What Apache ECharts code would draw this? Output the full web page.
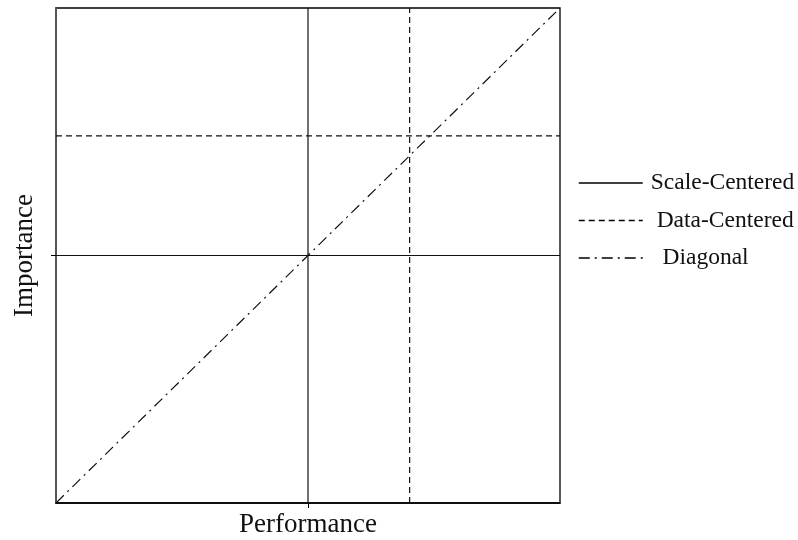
<!DOCTYPE html>
<html>
<head>
<meta charset="utf-8">
<script src="https://cdn.jsdelivr.net/npm/echarts@6/dist/echarts.min.js"></script>
<style>
  html, body { margin: 0; padding: 0; background: #fff; }
  #chart { width: 798px; height: 540px; }
</style>
</head>
<body>
<div id="chart"></div>
<script>
// rating scale 1..7, midpoint 4
const scaleMin = 1
const scaleMax = 7
const scaleMid = 4
// data-centred means (performance, importance)
const perfMean = 5.21
const impMean = 5.45
const seriesNames = ['Scale-Centered', 'Data-Centered', 'Diagonal']
const labelIndent = { 'Scale-Centered': '', 'Data-Centered': ' ', 'Diagonal': '  ' }

const serif = 'Liberation Serif, Times New Roman, serif'
const ink = '#111'

let mychart = echarts.init(document.getElementById('chart'))

function lineSeries(name, data, type) {
  return {
    name: name,
    type: 'line',
    data: data,
    symbol: 'none',
    silent: true,
    lineStyle: { color: ink, width: 1.2, type: type },
    itemStyle: { color: ink }
  }
}

const dashed = [6, 4]
const dashDot = [11, 5, 2, 5]

let option = {
  animation: false,
  grid: {
    left: 56, right: 238, top: 8, bottom: 37,
    outerBoundsMode: 'none',
    containLabel: false,
    show: true, borderColor: '#000', borderWidth: 1.3
  },
  legend: {
    orient: 'vertical',
    left: 578,
    top: 171,
    padding: 0,
    itemWidth: 64,
    itemHeight: 14,
    itemGap: 13.5,
    data: seriesNames,
    itemStyle: { opacity: 0 },
    lineStyle: { width: 1.5, color: '#000', opacity: 1 },
    formatter: function(name) {
      return labelIndent[name] + name
    },
    textStyle: { fontFamily: serif, fontSize: 23.5, color: '#111', padding: [0, 0, 0, 3] }
  },
  xAxis: {
    type: 'value',
    min: scaleMin,
    max: scaleMax,
    interval: 3,
    name: 'Performance',
    nameLocation: 'middle',
    nameGap: 8,
    nameTextStyle: { fontFamily: serif, fontSize: 27, color: '#111' },
    splitLine: { show: false },
    axisLine: { show: true, lineStyle: { color: '#000', width: 1.5 } },
    axisTick: { show: true, length: 5, customValues: [scaleMid], lineStyle: { color: '#000' } },
    axisLabel: { show: false }
  },
  yAxis: {
    type: 'value',
    min: scaleMin,
    max: scaleMax,
    interval: 3,
    name: 'Importance',
    nameLocation: 'middle',
    nameGap: 18,
    nameTextStyle: { fontFamily: serif, fontSize: 27, color: '#111' },
    splitLine: { show: false },
    axisLine: { show: true, lineStyle: { color: '#555', width: 2 } },
    axisTick: { show: true, length: 5, customValues: [scaleMid], lineStyle: { color: '#000' } },
    axisLabel: { show: false }
  },
  series: [
    lineSeries('Scale-Centered', [[scaleMid, scaleMin], [scaleMid, scaleMax]], 'solid'),
    lineSeries('Scale-Centered', [[scaleMin, scaleMid], [scaleMax, scaleMid]], 'solid'),
    lineSeries('Data-Centered', [[perfMean, scaleMin], [perfMean, scaleMax]], dashed),
    lineSeries('Data-Centered', [[scaleMin, impMean], [scaleMax, impMean]], dashed),
    lineSeries('Diagonal', [[scaleMin, scaleMin], [scaleMax, scaleMax]], dashDot)
  ]
}
mychart.setOption(option)
window.addEventListener('resize', function() {
  mychart.resize()
})
</script>
</body>
</html>
